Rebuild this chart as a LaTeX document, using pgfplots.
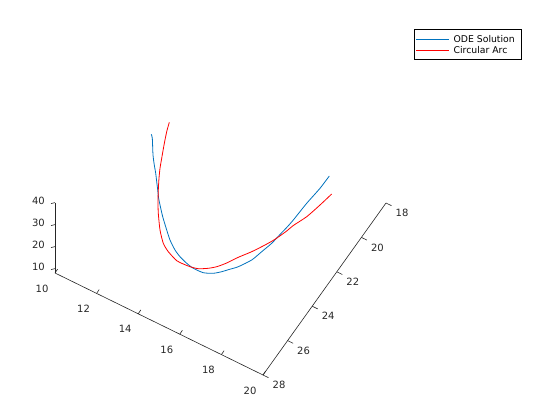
\documentclass[border=0pt]{standalone}
\usepackage{pgfplots}
\pgfplotsset{compat=1.18}
\usepackage{fontspec}
\setmainfont{DejaVu Sans}
\definecolor{mblue}{rgb}{0,0.447,0.741}
\definecolor{axgray}{rgb}{0.15,0.15,0.15}
\begin{document}
\begin{tikzpicture}
\begin{axis}[
  x={(20.8pt,-10.2pt)}, y={(-12.3pt,-17.2pt)}, z={(0pt,2.2pt)},
  xmin=10, xmax=20, ymin=18, ymax=28, zmin=8, zmax=40,
  hide axis, clip=false,
  legend style={at={(axis cs:20.384,7.674,8)}, anchor=north east,
    fill=white,
    font=\fontsize{9.3pt}{11pt}\selectfont,
    inner xsep=6pt, inner ysep=4pt, row sep=0pt, column sep=4.4pt,
    nodes={inner xsep=0pt, inner ysep=0pt, text height=8.9pt, text depth=2.1pt}},
  legend cell align=left,
  legend image code/.code={\path (2.3pt,0pt) -- (31pt,0pt); \draw[#1, overlay] (-1.4pt,0pt) -- (31pt,0pt);},
]
\addplot3[mblue, line width=0.8pt, smooth, tension=0.4] coordinates {
(11.529,22.757,37.14) (11.622,22.832,36.34) (11.885,23.220,33) (12.073,23.433,31)
(12.242,23.604,29.34) (12.397,23.785,27.66) (12.551,23.964,26) (12.686,24.128,24.5)
(12.847,24.277,23) (13.109,24.502,20.66) (13.441,24.738,18) (13.701,24.910,16)
(14.022,25.045,14) (14.295,25.101,12.66) (14.628,25.119,11.34) (14.934,25.100,10.34)
(15.353,24.995,9.46) (15.717,24.798,9.34) (15.993,24.583,9.66) (16.222,24.375,10.1)
(16.513,24.112,10.66) (16.894,23.667,12) (17.132,23.256,13.66) (17.368,22.843,15.34)
(17.538,22.455,17.1) (17.677,22.145,18.5) (17.805,21.825,20) (18.044,21.140,23.34)
(18.304,20.497,26.34) (18.459,20.005,28.8)
};
\addlegendentry{ODE Solution}
\addplot3[red, line width=0.8pt, smooth, tension=0.4] coordinates {
(11.999,22.087,39.54) (12.040,22.369,37.66) (12.134,22.746,35) (12.241,23.116,32.34)
(12.323,23.393,30.34) (12.430,23.655,28.34) (12.572,23.951,26) (12.733,24.247,23.6)
(12.904,24.513,21.34) (13.203,24.880,18) (13.510,25.131,15.34) (13.808,25.228,13.66)
(14.235,25.267,11.86) (14.517,25.207,11.2) (14.794,25.131,10.66) (15.118,25.004,10.26)
(15.468,24.783,10.34) (15.744,24.568,10.66) (16.027,24.289,11.34) (16.379,23.885,12.54)
(16.776,23.467,13.66) (17.154,23.025,15) (17.429,22.676,16.14) (17.727,22.230,17.8)
(17.883,21.958,18.9) (18.235,21.463,20.66) (18.542,20.900,23) (18.801,20.388,25.2)
};
\addlegendentry{Circular Arc}
% axis lines
\draw[axgray, line width=0.6pt] (axis cs:10,28,8) -- (axis cs:20,28,8) -- (axis cs:20,18,8);
\draw[axgray, line width=0.6pt] (axis cs:10,28,8) -- (axis cs:10,28,40);
\pgfplotsinvokeforeach{10,12,...,20}{
  \draw[axgray, line width=0.6pt] (axis cs:#1,28,8) -- ++(2.6pt,3.9pt);
  \node[axgray, font=\fontsize{10pt}{12pt}\selectfont, xshift=-13pt, yshift=-15.5pt] at (axis cs:#1,28,8) {#1};
}
\pgfplotsinvokeforeach{18,20,...,28}{
  \draw[axgray, line width=0.6pt] (axis cs:20,#1,8) -- ++(5.5pt,-2.7pt);
  \node[axgray, font=\fontsize{10pt}{12pt}\selectfont, xshift=16pt, yshift=-10pt] at (axis cs:20,#1,8) {#1};
}
\pgfplotsinvokeforeach{10,20,30,40}{
  \draw[axgray, line width=0.6pt] (axis cs:10,28,#1) -- ++(-4pt,-1pt);
  \node[axgray, font=\fontsize{10pt}{12pt}\selectfont, anchor=east, inner sep=0pt, xshift=-10pt, yshift=2pt] at (axis cs:10,28,#1) {#1};
}
\coordinate (bbA) at (axis cs:1.093,17.41,8);
\coordinate (bbB) at (axis cs:31.717,23.668,8);
\end{axis}
\pgfresetboundingbox
\useasboundingbox (bbA) rectangle (bbB);
\end{tikzpicture}
\end{document}
